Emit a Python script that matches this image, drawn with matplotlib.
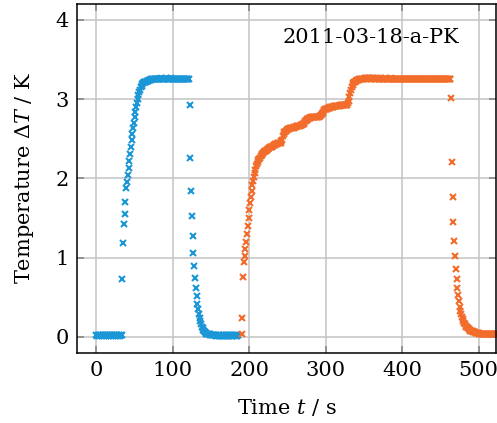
import matplotlib
matplotlib.use("Agg")
import matplotlib.pyplot as plt

blue_start = 0
blue_temp = [
    # Ruhephase
    0.02, 0.01, 0.02, 0.02, 0.01, 0.02, 0.02, 0.01, 0.02, 0.02,
    0.01, 0.02, 0.02, 0.01, 0.02, 0.02, 0.01, 0.02, 0.02, 0.01,
    0.02, 0.02, 0.01, 0.02, 0.02, 0.01, 0.02, 0.02, 0.01, 0.02,
    0.02, 0.01, 0.02, 0.02,
    # Anstieg
    0.73, 1.19, 1.43, 1.55, 1.70, 1.88, 1.95, 2.04, 2.13, 2.22,
    2.31, 2.40, 2.48, 2.56, 2.63, 2.70, 2.77, 2.84, 2.90, 2.95,
    3.00, 3.05, 3.09, 3.12, 3.15, 3.17, 3.19, 3.20,
    # Plateau
    3.21, 3.21, 3.22, 3.22, 3.23, 3.23, 3.23, 3.24, 3.24, 3.24,
    3.25, 3.25, 3.25, 3.25, 3.25, 3.26, 3.26, 3.26, 3.26, 3.26,
    3.26, 3.26, 3.26, 3.27, 3.26, 3.26, 3.26, 3.26, 3.26, 3.27,
    3.26, 3.26, 3.26, 3.26, 3.26, 3.26, 3.27, 3.26, 3.26, 3.26,
    3.26, 3.26, 3.26, 3.26, 3.26, 3.26, 3.26, 3.26, 3.26, 3.26,
    3.26, 3.26, 3.26, 3.26, 3.26, 3.26, 3.26, 3.26, 3.26, 3.26,
    # Abkuehlung
    2.92, 2.26, 1.84, 1.52, 1.27, 1.06, 0.89, 0.74, 0.62, 0.51,
    0.42, 0.35, 0.29, 0.24, 0.20, 0.16, 0.13, 0.11, 0.09, 0.07,
    0.06, 0.05, 0.04,
    0.04, 0.03, 0.03, 0.03, 0.02, 0.02, 0.02, 0.02, 0.02, 0.02,
    0.02, 0.01, 0.02, 0.01, 0.02, 0.01, 0.02, 0.01, 0.02, 0.01,
    0.02, 0.01, 0.02, 0.01, 0.02, 0.01, 0.02, 0.01, 0.02, 0.01,
    0.02, 0.01, 0.02, 0.01, 0.02, 0.01, 0.02, 0.01, 0.02, 0.01,
    0.02,
]

orange_start = 190
orange_temp = [
    # Anstieg
    0.03, 0.24, 0.76, 0.94, 1.02, 1.11, 1.20, 1.30, 1.40, 1.50,
    1.60, 1.69, 1.77, 1.84, 1.91, 1.97, 2.02, 2.07, 2.11, 2.15,
    2.18, 2.21, 2.23, 2.25,
    2.26, 2.28, 2.29, 2.31, 2.32, 2.33, 2.34, 2.35, 2.35, 2.36,
    2.37, 2.37, 2.38, 2.39, 2.39, 2.40, 2.40, 2.41, 2.42, 2.42,
    2.43, 2.43, 2.43, 2.44, 2.44, 2.44, 2.45, 2.45, 2.47,
    # Stufen
    2.49, 2.53, 2.56, 2.58, 2.59, 2.60, 2.61, 2.62, 2.62, 2.62,
    2.63, 2.63, 2.63, 2.64, 2.64, 2.64, 2.65, 2.65, 2.65, 2.66,
    2.66, 2.66, 2.66, 2.66, 2.67, 2.67, 2.67,
    2.68, 2.69, 2.70, 2.72, 2.73, 2.74, 2.75, 2.75, 2.76, 2.76,
    2.76, 2.77, 2.77, 2.77, 2.77, 2.77, 2.78, 2.78, 2.78, 2.78,
    2.78, 2.78, 2.79, 2.79, 2.80,
    2.81, 2.83, 2.84, 2.86, 2.87, 2.87, 2.88, 2.88, 2.89, 2.89,
    2.89, 2.90, 2.90, 2.90, 2.90, 2.90, 2.91, 2.91, 2.91, 2.91,
    2.91, 2.91, 2.91, 2.91, 2.92, 2.92, 2.92, 2.92, 2.92, 2.92,
    2.92, 2.92, 2.92, 2.93, 2.95,
    2.97, 3.03, 3.08, 3.12, 3.15, 3.18, 3.20, 3.21, 3.22, 3.23,
    3.23, 3.24, 3.24, 3.24, 3.25, 3.25, 3.25, 3.25, 3.26, 3.26,
    # Plateau
    3.26, 3.27, 3.27, 3.26, 3.27, 3.27, 3.26, 3.27, 3.27, 3.26,
    3.27, 3.26, 3.27, 3.26, 3.26, 3.27, 3.26, 3.26, 3.27, 3.26,
    3.26, 3.26, 3.27, 3.26, 3.26, 3.26, 3.26, 3.27, 3.26, 3.26,
    3.26, 3.26, 3.26, 3.26, 3.26, 3.27, 3.26, 3.26, 3.26, 3.26,
    3.26, 3.26, 3.26, 3.26, 3.26, 3.26, 3.26, 3.26, 3.26, 3.26,
    3.26, 3.26, 3.26, 3.26, 3.26, 3.26, 3.26, 3.26, 3.26, 3.26,
    3.26, 3.26, 3.26, 3.26, 3.26, 3.26, 3.26, 3.26, 3.26, 3.26,
    3.26, 3.26, 3.26, 3.26, 3.26, 3.26, 3.26, 3.26, 3.26, 3.26,
    3.26, 3.26, 3.26, 3.26, 3.26, 3.26, 3.26, 3.26, 3.26, 3.26,
    3.26, 3.26, 3.26, 3.26, 3.26, 3.26, 3.26, 3.26, 3.26, 3.26,
    3.26, 3.26, 3.26, 3.26, 3.26, 3.26, 3.26, 3.26, 3.26, 3.26,
    3.26, 3.26, 3.26, 3.26,
    # Abkuehlung
    3.02, 2.21, 1.77, 1.45, 1.21, 1.02, 0.86, 0.73, 0.62, 0.53,
    0.45, 0.38, 0.33, 0.29, 0.25, 0.22, 0.20, 0.18, 0.16, 0.14,
    0.13,
    0.12, 0.11, 0.10, 0.09, 0.08, 0.08, 0.07, 0.07, 0.06, 0.06,
    0.06, 0.05, 0.05, 0.05, 0.05, 0.05, 0.04, 0.04, 0.04, 0.04,
    0.04, 0.04, 0.04, 0.04, 0.03, 0.03, 0.03, 0.03, 0.03, 0.03,
    0.03, 0.03, 0.03, 0.03, 0.03, 0.03, 0.03, 0.03, 0.03, 0.03,
]

blue_time = list(range(blue_start, blue_start + len(blue_temp)))
orange_time = list(range(orange_start, orange_start + len(orange_temp)))

x_ticks = [0, 100, 200, 300, 400, 500]
y_ticks = [0, 1, 2, 3, 4]
label_text = "2011-03-18-a-PK"

plt.rcParams["font.family"] = "DejaVu Serif"
plt.rcParams["mathtext.fontset"] = "dejavuserif"
plt.rcParams["font.size"] = 15

fig = plt.figure(figsize=(4.97, 4.23), dpi=100)
ax = fig.add_axes([0.1555, 0.1662, 0.8415, 0.8243])

ax.plot(blue_time, blue_temp, linestyle="none", marker="x", ms=5, mew=1.5,
        color="#1b96d6")
ax.plot(orange_time, orange_temp, linestyle="none", marker="x", ms=5, mew=1.5,
        color="#f26c2b")

ax.set_xlim(-25, 522)
ax.set_ylim(-0.2, 4.2)
ax.set_xticks(x_ticks)
ax.set_yticks(y_ticks)
ax.grid(True, color="#c4c4c4", linewidth=1.1)
ax.set_axisbelow(True)
ax.tick_params(direction="in", length=5, width=1.1, color="#808080",
               top=True, right=True, labelsize=15, pad=6)
for s in ax.spines.values():
    s.set_linewidth(1.1)

ax.set_xlabel(r"Time $t$ / s", labelpad=12)
ax.set_ylabel(r"Temperature $\Delta T$ / K", labelpad=14)
ax.text(0.913, 0.932, label_text, transform=ax.transAxes, ha="right", va="top",
        fontsize=15)

fig.savefig("out.png", dpi=100)
